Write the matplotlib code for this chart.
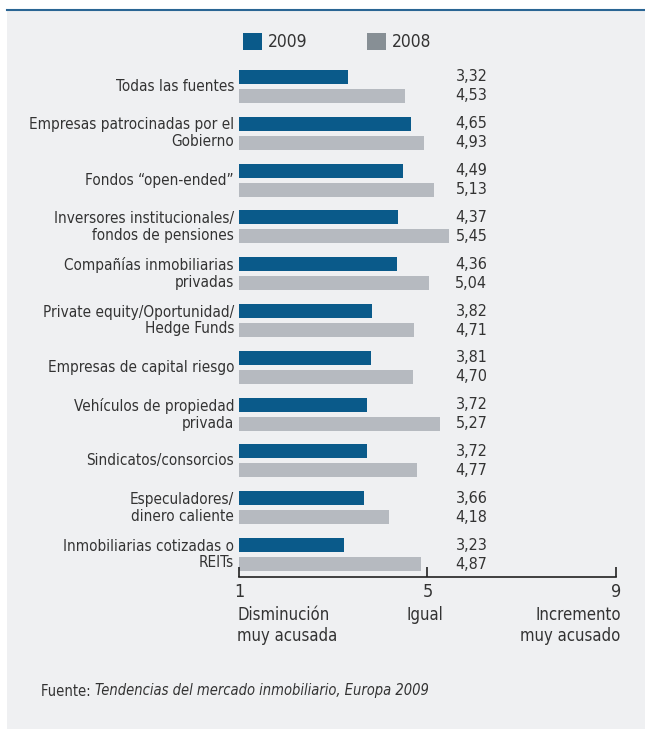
import numpy as np
import matplotlib.pyplot as plt
from matplotlib.patches import Rectangle

plt.rcParams['font.family'] = ['DejaVu Sans']
plt.rcParams['font.stretch'] = 'condensed'

categorias = [
    "Todas las fuentes",
    "Empresas patrocinadas por el\nGobierno",
    "Fondos \u201copen-ended\u201d",
    "Inversores institucionales/\nfondos de pensiones",
    "Compañías inmobiliarias\nprivadas",
    "Private equity/Oportunidad/\nHedge Funds",
    "Empresas de capital riesgo",
    "Vehículos de propiedad\nprivada",
    "Sindicatos/consorcios",
    "Especuladores/\ndinero caliente",
    "Inmobiliarias cotizadas o\nREITs",
]
v2009 = [3.32, 4.65, 4.49, 4.37, 4.36, 3.82, 3.81, 3.72, 3.72, 3.66, 3.23]
v2008 = [4.53, 4.93, 5.13, 5.45, 5.04, 4.71, 4.70, 5.27, 4.77, 4.18, 4.87]
ticks = [1, 5, 9]
tick_textos = ["Disminución\nmuy acusada", "Igual", "Incremento\nmuy acusado"]

azul = "#0a5a8a"
gris = "#b6bac0"
gris_leyenda = "#878f95"
fondo = "#eff0f2"
texto = "#333333"

W, H = 645, 729
fig = plt.figure(figsize=(W / 100, H / 100), dpi=100)
fig.patch.set_facecolor("white")

# panel gris y línea azul superior
bg = fig.add_axes([7 / W, 0, 1 - 7 / W, 1 - 10 / H], zorder=-1)
bg.set_facecolor(fondo)
bg.axis("off")
bg.add_patch(Rectangle((0, 0), 1, 1, transform=bg.transAxes, facecolor=fondo, edgecolor="none"))
fig.add_artist(plt.Line2D([7 / W, 1], [1 - 9.5 / H, 1 - 9.5 / H], color="#2a6594", lw=1.5))

ax = fig.add_axes([239 / W, (H - 577) / H, (616 - 239) / W, (577 - 60) / H])
ax.set_facecolor("none")

y = np.arange(len(categorias))
sep = 0.203
alto = 0.30
ax.barh(y - sep, np.array(v2009) - 1, left=1, height=alto, color=azul)
ax.barh(y + sep, np.array(v2008) - 1, left=1, height=alto, color=gris)

for i in range(len(categorias)):
    ax.text(6.27, y[i] - sep, f"{v2009[i]:.2f}".replace(".", ","), ha="right", va="center",
            fontsize=11.5, color=texto)
    ax.text(6.27, y[i] + sep, f"{v2008[i]:.2f}".replace(".", ","), ha="right", va="center",
            fontsize=11.5, color=texto)
    ax.text(-0.013, y[i], categorias[i], transform=ax.get_yaxis_transform(), ha="right",
            va="center", fontsize=11, color=texto, linespacing=1.15)

ax.set_xlim(1, 9)
ax.set_ylim(10.48, -0.566)
for s in ["top", "right", "left"]:
    ax.spines[s].set_visible(False)
ax.spines["bottom"].set_color("#222222")
ax.spines["bottom"].set_linewidth(1.2)
ax.set_yticks([])
ax.set_xticks(ticks)
ax.set_xticklabels([str(t) for t in ticks], fontsize=13, color=texto)
ax.tick_params(axis="x", direction="in", length=7, width=1.2, color="#222222", pad=4)

alineaciones = ["left", "center", "right"]
desplaz = [-0.04, -0.05, 0.1]
for t, s, a, d in zip(ticks, tick_textos, alineaciones, desplaz):
    ax.text(t + d, -0.056, s, transform=ax.get_xaxis_transform(), ha=a, va="top",
            fontsize=12, color=texto, linespacing=1.2)

# leyenda
fig.patches.append(Rectangle((243 / W, 1 - 50 / H), 19 / W, 17 / H, transform=fig.transFigure,
                             facecolor=azul, edgecolor="none"))
fig.text(268 / W, 1 - 42 / H, "2009", ha="left", va="center", fontsize=12.5, color=texto)
fig.patches.append(Rectangle((367 / W, 1 - 50 / H), 19 / W, 17 / H, transform=fig.transFigure,
                             facecolor=gris_leyenda, edgecolor="none"))
fig.text(392 / W, 1 - 42 / H, "2008", ha="left", va="center", fontsize=12.5, color=texto)

# fuente
t1 = fig.text(41 / W, 1 - 691 / H, "Fuente: ", ha="left", va="center", fontsize=10.5, color=texto)
fig.canvas.draw()
bb = t1.get_window_extent()
fig.text(bb.x1 / fig.bbox.width, 1 - 691 / H, "Tendencias del mercado inmobiliario, Europa 2009",
         ha="left", va="center", fontsize=10.5, color=texto, style="italic")

fig.savefig("out.png", dpi=100)
